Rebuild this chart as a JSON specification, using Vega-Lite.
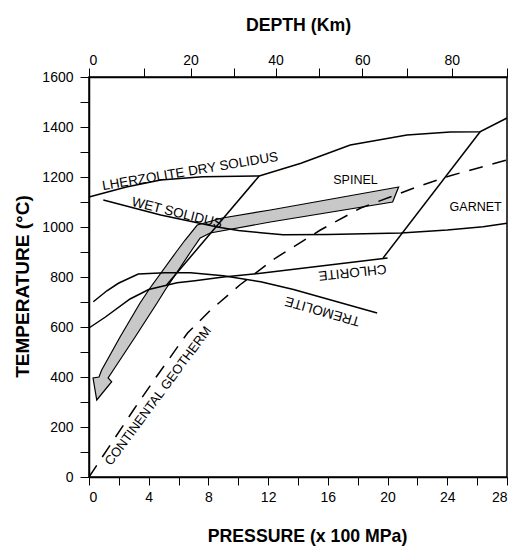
{
  "$schema": "https://vega.github.io/schema/vega-lite/v6.json",
  "width": 418,
  "height": 400,
  "autosize": "none",
  "padding": {"left": 89, "top": 77, "right": 9, "bottom": 73},
  "background": "white",
  "config": {
    "view": {"stroke": "black", "strokeWidth": 1.5},
    "axis": {
      "grid": false,
      "domainColor": "black",
      "domainWidth": 1.5,
      "tickColor": "black",
      "tickWidth": 1,
      "tickSize": 8,
      "labelFont": "Liberation Sans",
      "labelFontSize": 14,
      "labelColor": "black",
      "titleFont": "Liberation Sans",
      "titleFontSize": 17.7,
      "titleFontWeight": "bold",
      "titleColor": "black"
    },
    "text": {"font": "Liberation Sans", "fontSize": 12.5, "color": "black"}
  },
  "datasets": {
    "arrow": [
      {"i": 1, "P": 20.74, "T": 1160},
      {"i": 2, "P": 12.15, "T": 1068},
      {"i": 3, "P": 8.93, "T": 1036},
      {"i": 4, "P": 7.25, "T": 1008},
      {"i": 5, "P": 6.44, "T": 948},
      {"i": 6, "P": 5.84, "T": 900},
      {"i": 7, "P": 4.09, "T": 756},
      {"i": 8, "P": 3.42, "T": 696},
      {"i": 9, "P": 2.08, "T": 560},
      {"i": 10, "P": 0.85, "T": 428},
      {"i": 11, "P": 0.67, "T": 400},
      {"i": 12, "P": 0.27, "T": 396},
      {"i": 13, "P": 0.52, "T": 308},
      {"i": 14, "P": 1.52, "T": 381},
      {"i": 15, "P": 1.28, "T": 396},
      {"i": 16, "P": 1.63, "T": 428},
      {"i": 17, "P": 3.09, "T": 560},
      {"i": 18, "P": 4.56, "T": 696},
      {"i": 19, "P": 5.1, "T": 748},
      {"i": 20, "P": 6.89, "T": 908},
      {"i": 21, "P": 7.45, "T": 956},
      {"i": 22, "P": 8.12, "T": 976},
      {"i": 23, "P": 12.15, "T": 1020},
      {"i": 24, "P": 20.34, "T": 1100}
    ],
    "curves": [
      {"curve": "dry", "i": 1, "P": 0, "T": 1120},
      {"curve": "dry", "i": 2, "P": 2.5, "T": 1160},
      {"curve": "dry", "i": 3, "P": 4.8, "T": 1188},
      {"curve": "dry", "i": 4, "P": 7.6, "T": 1201},
      {"curve": "dry", "i": 5, "P": 11.4, "T": 1204},
      {"curve": "dry", "i": 6, "P": 14.2, "T": 1255},
      {"curve": "dry", "i": 7, "P": 17.5, "T": 1328},
      {"curve": "dry", "i": 8, "P": 21.3, "T": 1368},
      {"curve": "dry", "i": 9, "P": 24.2, "T": 1380},
      {"curve": "dry", "i": 10, "P": 26.2, "T": 1381},
      {"curve": "dry", "i": 11, "P": 28, "T": 1436},
      {"curve": "garnet", "i": 1, "P": 19.7, "T": 876},
      {"curve": "garnet", "i": 2, "P": 26.2, "T": 1381},
      {"curve": "spinel", "i": 1, "P": 11.4, "T": 1204},
      {"curve": "spinel", "i": 2, "P": 5.2, "T": 768},
      {"curve": "wet", "i": 1, "P": 0.96, "T": 1108},
      {"curve": "wet", "i": 2, "P": 4.8, "T": 1048},
      {"curve": "wet", "i": 3, "P": 8.6, "T": 1000},
      {"curve": "wet", "i": 4, "P": 10, "T": 986},
      {"curve": "wet", "i": 5, "P": 11.5, "T": 977},
      {"curve": "wet", "i": 6, "P": 13, "T": 969},
      {"curve": "wet", "i": 7, "P": 16, "T": 970},
      {"curve": "wet", "i": 8, "P": 20.9, "T": 976},
      {"curve": "wet", "i": 9, "P": 24, "T": 988},
      {"curve": "wet", "i": 10, "P": 26.4, "T": 1001},
      {"curve": "wet", "i": 11, "P": 28, "T": 1015},
      {"curve": "chlorite", "i": 1, "P": 0, "T": 596},
      {"curve": "chlorite", "i": 2, "P": 1.1, "T": 640},
      {"curve": "chlorite", "i": 3, "P": 2.75, "T": 712},
      {"curve": "chlorite", "i": 4, "P": 4, "T": 750},
      {"curve": "chlorite", "i": 5, "P": 5.9, "T": 777},
      {"curve": "chlorite", "i": 6, "P": 7.1, "T": 785},
      {"curve": "chlorite", "i": 7, "P": 9, "T": 800},
      {"curve": "chlorite", "i": 8, "P": 11.5, "T": 815},
      {"curve": "chlorite", "i": 9, "P": 20, "T": 876},
      {"curve": "tremolite", "i": 1, "P": 0.29, "T": 701},
      {"curve": "tremolite", "i": 2, "P": 1.2, "T": 745},
      {"curve": "tremolite", "i": 3, "P": 1.97, "T": 775},
      {"curve": "tremolite", "i": 4, "P": 3.3, "T": 812},
      {"curve": "tremolite", "i": 5, "P": 5.1, "T": 817},
      {"curve": "tremolite", "i": 6, "P": 6.8, "T": 817},
      {"curve": "tremolite", "i": 7, "P": 9, "T": 805},
      {"curve": "tremolite", "i": 8, "P": 11.5, "T": 781},
      {"curve": "tremolite", "i": 9, "P": 13.7, "T": 750},
      {"curve": "tremolite", "i": 10, "P": 19.3, "T": 656}
    ],
    "geotherm": [
      {"i": 1, "P": 0, "T": 0},
      {"i": 2, "P": 1.5, "T": 135},
      {"i": 3, "P": 3, "T": 270},
      {"i": 4, "P": 4.5, "T": 400},
      {"i": 5, "P": 6.6, "T": 576},
      {"i": 6, "P": 8.1, "T": 665},
      {"i": 7, "P": 10.1, "T": 768},
      {"i": 8, "P": 12.5, "T": 876},
      {"i": 9, "P": 15.5, "T": 988},
      {"i": 10, "P": 18.2, "T": 1076},
      {"i": 11, "P": 22, "T": 1161},
      {"i": 12, "P": 24.2, "T": 1205},
      {"i": 13, "P": 26.9, "T": 1250},
      {"i": 14, "P": 28, "T": 1268}
    ]
  },
  "resolve": {"axis": {"x": "independent", "y": "independent"}},
  "layer": [
    {
      "data": {"name": "arrow"},
      "mark": {"type": "line", "interpolate": "linear-closed", "fill": "#c8c8c8", "stroke": "black", "strokeWidth": 1.2},
      "encoding": {
        "x": {"field": "P", "type": "quantitative", "scale": {"domain": [0, 28], "nice": false, "zero": false},
          "axis": {"orient": "bottom", "values": [0, 2, 4, 6, 8, 10, 12, 14, 16, 18, 20, 22, 24, 26, 28],
            "labelExpr": "datum.value % 4 == 0 ? datum.label : ''", "format": "d",
            "title": "PRESSURE (x 100 MPa)", "titleX": 218, "labelPadding": 5, "titlePadding": 23}},
        "y": {"field": "T", "type": "quantitative", "scale": {"domain": [0, 1600], "nice": false},
          "axis": {"orient": "left", "values": [0, 100, 200, 300, 400, 500, 600, 700, 800, 900, 1000, 1100, 1200, 1300, 1400, 1500, 1600],
            "labelExpr": "datum.value % 200 == 0 ? datum.label : ''", "format": "d",
            "tickSize": 9, "labelPadding": 7, "title": "TEMPERATURE (°C)", "titleFontSize": 19, "titlePadding": 9, "titleY": 209}},
        "order": {"field": "i", "type": "quantitative"}
      }
    },
    {
      "data": {"name": "curves"},
      "mark": {"type": "line", "color": "black", "strokeWidth": 1.5},
      "encoding": {
        "x": {"field": "P", "type": "quantitative", "axis": null},
        "y": {"field": "T", "type": "quantitative", "axis": null},
        "detail": {"field": "curve"},
        "order": {"field": "i", "type": "quantitative"}
      }
    },
    {
      "data": {"name": "geotherm"},
      "mark": {"type": "line", "color": "black", "strokeWidth": 1.5, "strokeDash": [14, 10]},
      "encoding": {
        "x": {"field": "P", "type": "quantitative",
          "axis": {"orient": "top", "values": [0, 3.7, 6.8, 9.7, 12.5, 15.4, 18.3, 21.3, 24.3, 28],
            "labelExpr": "datum.value == 0 ? '0' : datum.value == 6.8 ? '20' : datum.value == 12.5 ? '40' : datum.value == 18.3 ? '60' : datum.value == 24.3 ? '80' : ''",
            "title": "DEPTH (Km)", "tickSize": 9, "labelPadding": 1, "titlePadding": 19}},
        "y": {"field": "T", "type": "quantitative", "axis": null},
        "order": {"field": "i", "type": "quantitative"}
      }
    },
    {
      "data": {"values": [{"label": "LHERZOLITE DRY SOLIDUS", "P": 6.78, "T": 1222}]},
      "mark": {"type": "text", "angle": -9.5, "fontSize": 13.5},
      "encoding": {
        "x": {"field": "P", "type": "quantitative", "axis": null},
        "y": {"field": "T", "type": "quantitative", "axis": null},
        "text": {"field": "label"}
      }
    },
    {
      "data": {"values": [{"label": "WET SOLIDUS", "P": 5.9, "T": 1056}]},
      "mark": {"type": "text", "angle": 14, "fontSize": 13.5},
      "encoding": {
        "x": {"field": "P", "type": "quantitative", "axis": null},
        "y": {"field": "T", "type": "quantitative", "axis": null},
        "text": {"field": "label"}
      }
    },
    {
      "data": {"values": [{"label": "SPINEL", "P": 17.85, "T": 1188}, {"label": "GARNET", "P": 25.9, "T": 1080}]},
      "mark": {"type": "text", "fontSize": 12.5},
      "encoding": {
        "x": {"field": "P", "type": "quantitative", "axis": null},
        "y": {"field": "T", "type": "quantitative", "axis": null},
        "text": {"field": "label"}
      }
    },
    {
      "data": {"values": [{"label": "CHLORITE", "P": 17.65, "T": 820}]},
      "mark": {"type": "text", "angle": 174, "fontSize": 13.5},
      "encoding": {
        "x": {"field": "P", "type": "quantitative", "axis": null},
        "y": {"field": "T", "type": "quantitative", "axis": null},
        "text": {"field": "label"}
      }
    },
    {
      "data": {"values": [{"label": "TREMOLITE", "P": 15.64, "T": 664}]},
      "mark": {"type": "text", "angle": 196, "fontSize": 13.5},
      "encoding": {
        "x": {"field": "P", "type": "quantitative", "axis": null},
        "y": {"field": "T", "type": "quantitative", "axis": null},
        "text": {"field": "label"}
      }
    },
    {
      "data": {"values": [{"label": "CONTINENTAL GEOTHERM", "P": 4.63, "T": 324}]},
      "mark": {"type": "text", "angle": -53.5, "fontSize": 13},
      "encoding": {
        "x": {"field": "P", "type": "quantitative", "axis": null},
        "y": {"field": "T", "type": "quantitative", "axis": null},
        "text": {"field": "label"}
      }
    }
  ]
}
